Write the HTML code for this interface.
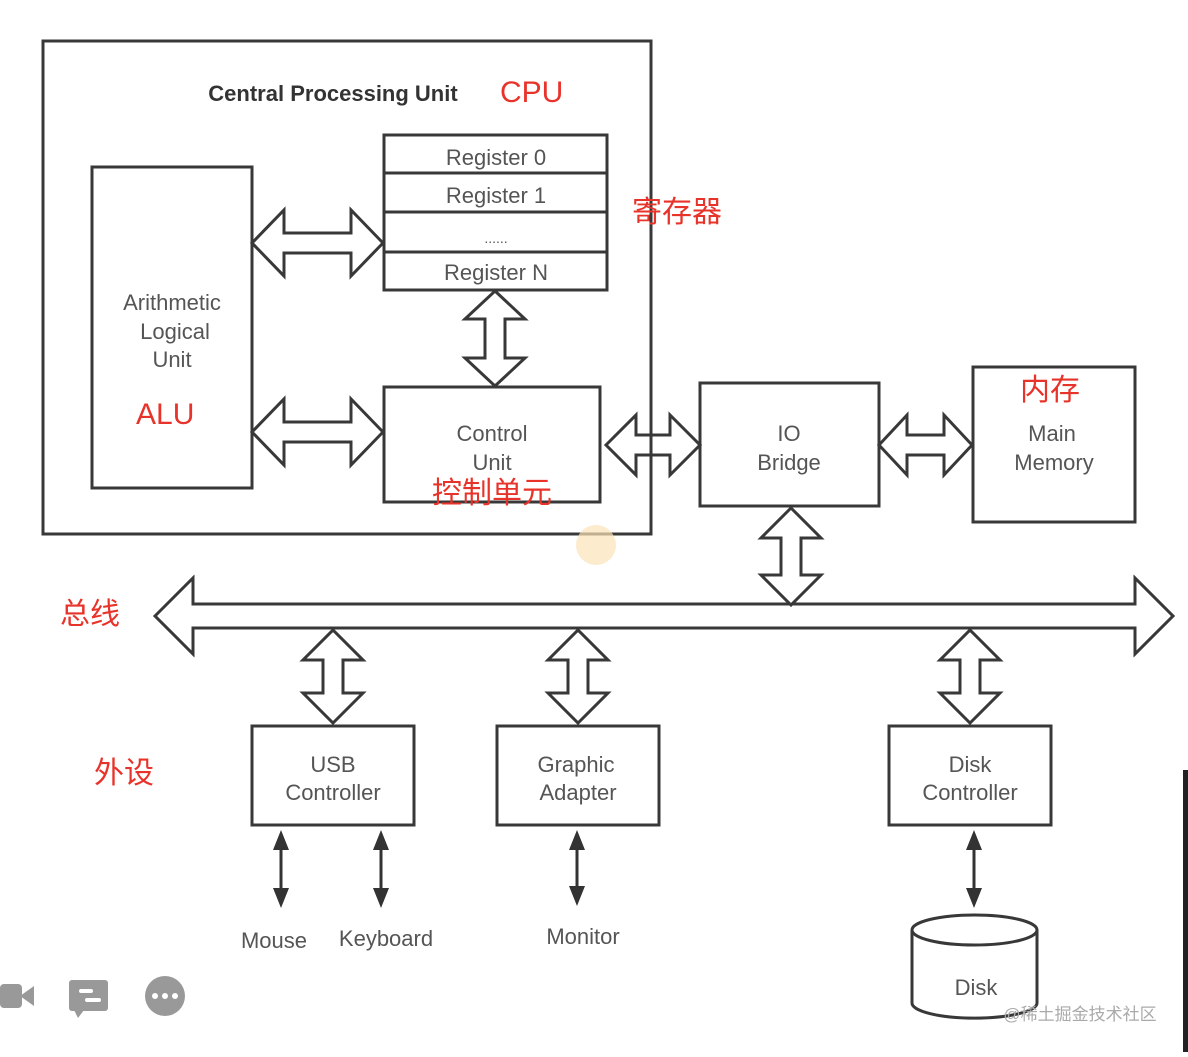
<!DOCTYPE html>
<html><head><meta charset="utf-8"><style>
body{margin:0;background:#fff}
svg text{font-family:"Liberation Sans","Noto Sans CJK SC",sans-serif}
</style></head><body>
<svg width="1188" height="1052" viewBox="0 0 1188 1052" xmlns="http://www.w3.org/2000/svg">
<g fill="#fff" stroke="#383838" stroke-width="3">
<rect x="43" y="41" width="608" height="493"/>
<rect x="92" y="167" width="160" height="321"/>
<rect x="384" y="135" width="223" height="155"/>
<line x1="384" y1="173" x2="607" y2="173"/><line x1="384" y1="212" x2="607" y2="212"/><line x1="384" y1="252" x2="607" y2="252"/>
<rect x="384" y="387" width="216" height="115"/>
<rect x="700" y="383" width="179" height="123"/>
<rect x="973" y="367" width="162" height="155"/>
<rect x="252" y="726" width="162" height="99"/>
<rect x="497" y="726" width="162" height="99"/>
<rect x="889" y="726" width="162" height="99"/>
<!-- horizontal double arrows -->
<polygon points="252,243 284,210 284,233 351,233 351,210 383,243 351,276 351,253 284,253 284,276"/>
<polygon points="252,432 284,399 284,422 351,422 351,399 383,432 351,465 351,442 284,442 284,465"/>
<polygon points="606,445 636,415 636,435 670,435 670,415 700,445 670,475 670,455 636,455 636,475" fill="none"/>
<polygon points="879,445 907,415 907,435 944,435 944,415 972,445 944,475 944,455 907,455 907,475"/>
<polygon points="155,616 193,578 193,604 1135,604 1135,578 1173,616 1135,654 1135,628 193,628 193,654"/>
<!-- vertical double arrows -->
<polygon points="495,291 525,319 505,319 505,358 525,358 495,386 465,358 485,358 485,319 465,319"/>
<polygon points="791,508 821,538 801,538 801,575 821,575 791,605 761,575 781,575 781,538 761,538"/>
<polygon points="333,630 363,660 343,660 343,693 363,693 333,723 303,693 323,693 323,660 303,660"/>
<polygon points="578,630 608,660 588,660 588,693 608,693 578,723 548,693 568,693 568,660 548,660"/>
<polygon points="970,630 1000,660 980,660 980,693 1000,693 970,723 940,693 960,693 960,660 940,660"/>
<!-- disk -->
<path d="M912,930 L912,1003 A62,15 0 0 0 1037,1003 L1037,930"/>
<ellipse cx="974.5" cy="930" rx="62.5" ry="15"/>
</g>
<line x1="651" y1="410" x2="651" y2="480" stroke="#383838" stroke-width="3"/>
<g stroke="#333" stroke-width="3" fill="#333">
<line x1="281" y1="845" x2="281" y2="893"/><polygon points="281,830 273,850 289,850" stroke="none"/><polygon points="281,908 273,888 289,888" stroke="none"/>
<line x1="381" y1="845" x2="381" y2="893"/><polygon points="381,830 373,850 389,850" stroke="none"/><polygon points="381,908 373,888 389,888" stroke="none"/>
<line x1="577" y1="845" x2="577" y2="891"/><polygon points="577,830 569,850 585,850" stroke="none"/><polygon points="577,906 569,886 585,886" stroke="none"/>
<line x1="974" y1="845" x2="974" y2="893"/><polygon points="974,830 966,850 982,850" stroke="none"/><polygon points="974,908 966,888 982,888" stroke="none"/>
</g>
<g fill="#555" font-size="22" text-anchor="middle">
<text x="333" y="101" font-weight="bold" fill="#333">Central Processing Unit</text>
<text x="496" y="165">Register 0</text>
<text x="496" y="203">Register 1</text>
<text x="496" y="243" font-size="14">......</text>
<text x="496" y="280">Register N</text>
<text x="172" y="310">Arithmetic</text>
<text x="175" y="339">Logical</text>
<text x="172" y="367">Unit</text>
<text x="492" y="441">Control</text>
<text x="492" y="470">Unit</text>
<text x="789" y="441">IO</text>
<text x="789" y="470">Bridge</text>
<text x="1052" y="441">Main</text>
<text x="1054" y="470">Memory</text>
<text x="333" y="772">USB</text>
<text x="333" y="800">Controller</text>
<text x="576" y="772">Graphic</text>
<text x="578" y="800">Adapter</text>
<text x="970" y="772">Disk</text>
<text x="970" y="800">Controller</text>
<text x="274" y="948">Mouse</text>
<text x="386" y="946">Keyboard</text>
<text x="583" y="944">Monitor</text>
<text x="976" y="995">Disk</text>
</g>
<g fill="#e8332a" font-size="30">
<text x="500" y="102">CPU</text>
<text x="632" y="222">寄存器</text>
<text x="136" y="424">ALU</text>
<text x="432" y="503">控制单元</text>
<text x="1020" y="400">内存</text>
<text x="60" y="624">总线</text>
<text x="94" y="783">外设</text>
</g>
<circle cx="596" cy="545" r="20" fill="#fbe3b8" opacity="0.7"/>
<text x="1080" y="1020" font-size="17" fill="#aaa" text-anchor="middle">@稀土掘金技术社区</text>
<g fill="#999">
<rect x="0" y="984" width="22" height="24" rx="4"/><polygon points="20,996 34,986 34,1006"/>
<rect x="69" y="980" width="39" height="31" rx="3"/><polygon points="74,1010 78,1018 84,1010"/>
<circle cx="165" cy="996" r="20"/>
</g>
<g fill="#fff">
<rect x="79" y="989" width="14" height="4" rx="2"/><rect x="85" y="998" width="16" height="4" rx="2"/>
<circle cx="155" cy="996" r="3"/><circle cx="165" cy="996" r="3"/><circle cx="175" cy="996" r="3"/>
</g>
<rect x="1183" y="770" width="5" height="282" fill="#222"/>
</svg>
</body></html>
